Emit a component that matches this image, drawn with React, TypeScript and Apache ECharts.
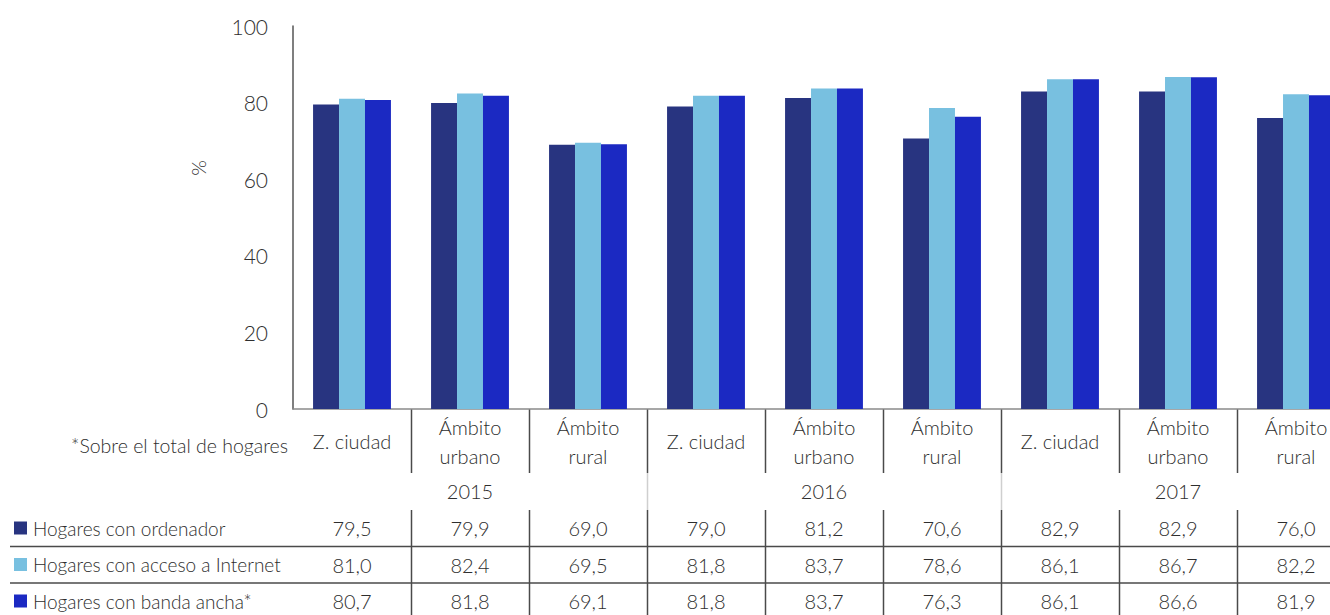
import React, { useEffect, useRef } from "react";
import * as echarts from "echarts";

const categories = [
  "Z. ciudad", "Ámbito\nurbano", "Ámbito\nrural",
  "Z. ciudad", "Ámbito\nurbano", "Ámbito\nrural",
  "Z. ciudad", "Ámbito\nurbano", "Ámbito\nrural",
];
const years = ["2015", "2016", "2017"];
const seriesNames = [
  "Hogares con ordenador",
  "Hogares con acceso a Internet",
  "Hogares con banda ancha*",
];
const ordenador = [79.5, 79.9, 69.0, 79.0, 81.2, 70.6, 82.9, 82.9, 76.0];
const internet = [81.0, 82.4, 69.5, 81.8, 83.7, 78.6, 86.1, 86.7, 82.2];
const bandaAncha = [80.7, 81.8, 69.1, 81.8, 83.7, 76.3, 86.1, 86.6, 81.9];
const seriesData = [ordenador, internet, bandaAncha];
const colors = ["#283480", "#78C0E0", "#1B29C2"];
const yMin = 0;
const yMax = 100;
const yInterval = 20;
const yName = "%";
const note = "*Sobre el total de hogares";

const FONT = "Lato";
const WEIGHT = 300;
const TEXT = "#2e2e2e";

const fmt = (v: number) => v.toFixed(1).replace(".", ",");

export default function App() {
  const ref = useRef<HTMLDivElement>(null);
  useEffect(() => {
    if (!ref.current) return;
    const chart = echarts.init(ref.current, null, { renderer: "svg" });
    chart.setOption({
      animation: false,
      grid: {
        left: 293,
        top: 26,
        width: 1062,
        height: 383,
        outerBoundsMode: "none",
        containLabel: false,
      },
      xAxis: {
        type: "category",
        data: categories,
        axisLine: { show: true, lineStyle: { color: "#8a8a8a", width: 1.5 } },
        axisTick: { show: false },
        axisLabel: {
          interval: 0,
          margin: 32,
          verticalAlign: "middle",
          fontFamily: FONT,
          fontWeight: WEIGHT,
          fontSize: 20,
          lineHeight: 29,
          color: TEXT,
        },
      },
      yAxis: {
        type: "value",
        min: yMin,
        max: yMax,
        interval: yInterval,
        axisLine: { show: true, lineStyle: { color: "#555", width: 1.5 } },
        axisTick: { show: false },
        splitLine: { show: false },
        axisLabel: {
          margin: 25,
          fontFamily: FONT,
          fontWeight: WEIGHT,
          fontSize: 21,
          color: TEXT,
        },
      },
      series: seriesData.map((d, i) => ({
        type: "bar",
        name: seriesNames[i],
        data: d,
        barGap: "0%",
        barCategoryGap: "34%",
        itemStyle: { color: colors[i] },
      })),
    });

    const px = (i: number) => chart.convertToPixel({ xAxisIndex: 0 }, i) as number;
    const band = px(1) - px(0);
    const gridBottom = chart.convertToPixel({ yAxisIndex: 0 }, yMin) as number;
    const catRowBottom = 473;
    const yearRowBottom = 510;
    const rowCenters = [528, 564.5, 601];
    const rowLines = [546.5, 583];
    const tableBottom = 615;
    const dark = "#4a4a4a";

    const txt = (text: string, x: number, y: number, size: number, align: string, extra: any = {}) => ({
      type: "text",
      x,
      y,
      ...extra,
      style: {
        text,
        fontFamily: FONT,
        fontWeight: WEIGHT,
        fontSize: size,
        fill: TEXT,
        align,
        verticalAlign: "middle",
      },
    });

    const graphic: any[] = [];
    graphic.push(txt(yName, 198, 168, 20, "center", { rotation: Math.PI / 2 }));
    graphic.push(txt(note, 288, 445, 19.5, "right"));
    for (let i = 1; i < categories.length; i++) {
      const x = Math.round(px(i) - band / 2) + 0.5;
      graphic.push({
        type: "line",
        shape: { x1: x, y1: gridBottom, x2: x, y2: catRowBottom },
        style: { stroke: dark, lineWidth: 1.5 },
      });
      graphic.push({
        type: "line",
        shape: { x1: x, y1: yearRowBottom, x2: x, y2: tableBottom },
        style: { stroke: dark, lineWidth: 1.5 },
      });
      if (i % 3 === 0) {
        graphic.push({
          type: "line",
          shape: { x1: x, y1: catRowBottom, x2: x, y2: yearRowBottom },
          style: { stroke: "#cfcfcf", lineWidth: 1.5 },
        });
      }
    }
    years.forEach((yr, g) => {
      graphic.push(txt(yr, px(g * 3 + 1), 491, 20, "center"));
    });
    rowLines.forEach((y) => {
      graphic.push({
        type: "line",
        shape: { x1: 10, y1: y, x2: 1330, y2: y },
        style: { stroke: dark, lineWidth: 1.5 },
      });
    });
    seriesData.forEach((d, r) => {
      const cy = rowCenters[r];
      graphic.push({
        type: "rect",
        shape: { x: 14, y: cy - 6.5, width: 13, height: 13 },
        style: { fill: colors[r] },
      });
      graphic.push(txt(seriesNames[r], 33, cy, 19, "left"));
      d.forEach((v, i) => {
        graphic.push(txt(fmt(v), px(i), cy, 20, "center"));
      });
    });
    chart.setOption({ graphic });

    return () => chart.dispose();
  }, []);
  return (
    <div
      ref={ref}
      style={{
        position: "absolute",
        left: 0,
        top: 0,
        width: 1330,
        height: 615,
        overflow: "hidden",
        background: "#fff",
      }}
    />
  );
}
